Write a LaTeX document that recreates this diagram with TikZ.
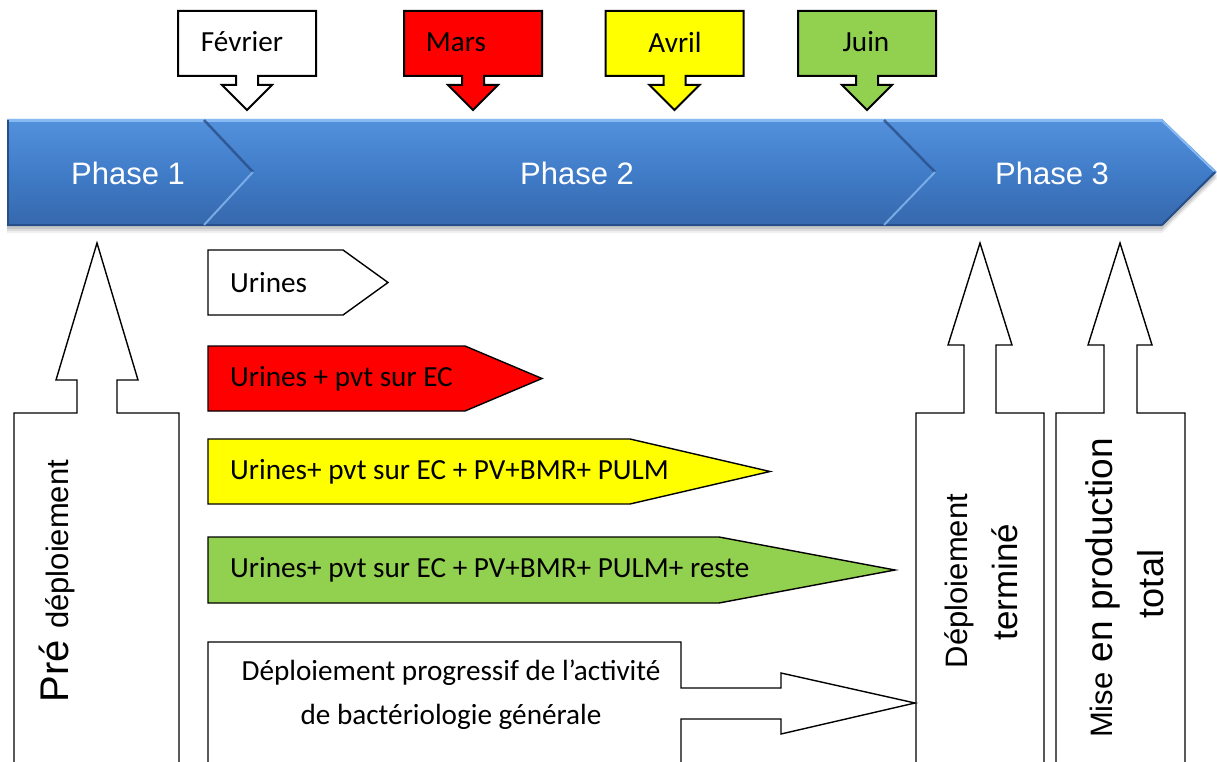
\documentclass[tikz,border=0pt]{standalone}
\usepackage{fontspec}
\setmainfont{Carlito}
\newfontfamily\arialfont{Liberation Sans}
\definecolor{mred}{RGB}{255,0,0}
\definecolor{myellow}{RGB}{255,255,0}
\definecolor{mgreen}{RGB}{146,208,80}
\definecolor{barTop}{RGB}{84,145,220}
\definecolor{barMid}{RGB}{64,124,200}
\definecolor{barBot}{RGB}{54,104,172}
\definecolor{barLight}{RGB}{135,185,242}
\definecolor{barDark}{RGB}{40,78,135}
\newcommand\asz[1]{\arialfont\fontsize{#1}{#1}\selectfont}
\tikzset{
  outl/.style={draw=black, line width=1.4pt, line join=miter},
  callout/.style={draw=black, line width=2pt, line join=miter},
  lbl/.style={font=\fontsize{29.2}{35}\selectfont, text=black, inner sep=0pt},
  phaselbl/.style={font=\arialfont\fontsize{31}{37}\selectfont, text=white, inner sep=0pt},
  vlbl/.style={font=\arialfont, rotate=90, anchor=base, inner sep=0pt},
  bar/.style={top color=barTop, bottom color=barBot, middle color=barMid},
}
% down-pointing callout: centre x, fill colour
\newcommand\monthbox[2]{%
  \path[callout, fill=#2] (#1-69,11) -- (#1+69,11) -- (#1+69,76) -- (#1+11,76)
    -- (#1+11,85) -- (#1+25,85) -- (#1,110) -- (#1-25,85) -- (#1-11,85)
    -- (#1-11,76) -- (#1-69,76) -- cycle;}
\begin{document}
\begin{tikzpicture}[x=1pt, y=-1pt]
\useasboundingbox (0,0) rectangle (1217,762);
\clip (0,0) rectangle (1217,762);
\fill[white] (0,0) rectangle (1217,762);

% ---- phase bar: soft shadow ----
\foreach \d/\o in {7/0.06, 5/0.08, 3/0.10}{
  \fill[black, opacity=\o] (7,119+\d) -- (1162,119+\d) -- (1217,172+\d)
    -- (1162,226+\d) -- (7,226+\d) -- cycle;}

% ---- phase chevrons ----
\path[bar] (202,119) -- (882,119) -- (935,172) -- (882,226) -- (202,226) -- (253,172) -- cycle;
\path[bar] (882,119) -- (1162,119) -- (1217,172) -- (1162,226) -- (882,226) -- (935,172) -- cycle;
\path[bar] (7,119) -- (202,119) -- (253,172) -- (202,226) -- (7,226) -- cycle;

% bevel highlights
\draw[barLight, line width=2.5pt] (7,120.5) -- (1162,120.5);
\draw[barDark, line width=2pt] (7,225) -- (1162,225);
\draw[barLight, line width=2pt] (1162,120.5) -- (1215,172);
\draw[barDark, line width=2pt] (1215,172) -- (1162,225);
\draw[barDark, line width=2.5pt, opacity=0.8] (204,120) -- (253,172);
\draw[barLight, line width=2pt, opacity=0.8] (253,172) -- (204,225);
\draw[barDark, line width=2.5pt, opacity=0.8] (884,120) -- (935,172);
\draw[barLight, line width=2pt, opacity=0.8] (935,172) -- (884,225);
\draw[barDark, line width=1.5pt] (8,120) -- (8,225);

\node[phaselbl] (p1) at (128,173) {Phase 1};
\node[phaselbl] (p2) at (577,173) {Phase 2};
\node[phaselbl] (p3) at (1052,173) {Phase 3};

% ---- month callouts ----
\monthbox{247}{white}
\monthbox{473}{mred}
\monthbox{674.5}{myellow}
\monthbox{867}{mgreen}
\node[lbl] (feb) at (242,42) {Février};
\node[lbl] (mar) at (456,42) {Mars};
\node[lbl] (avr) at (675,42) {Avril};
\node[lbl] (jun) at (866,42) {Juin};

% ---- scope pentagons ----
\path[outl, fill=white] (208,250) -- (343,250) -- (388,282.5) -- (343,315) -- (208,315) -- cycle;
\path[outl, fill=mred] (208,346) -- (465,346) -- (542,378.5) -- (465,411) -- (208,411) -- cycle;
\path[outl, fill=myellow] (208,439) -- (630,439) -- (770,471.5) -- (630,504) -- (208,504) -- cycle;
\path[outl, fill=mgreen] (208,537) -- (719,537) -- (895,570) -- (719,603) -- (208,603) -- cycle;
\node[lbl, anchor=west] (s1) at (230,282.5) {Urines};
\node[lbl, anchor=west] (s2) at (230,378.5) {Urines + pvt sur EC};
\node[lbl, anchor=west] (s3) at (230,471.5) {Urines+ pvt sur EC + PV+BMR+ PULM};
\node[lbl, anchor=west] (s4) at (230,570) {Urines+ pvt sur EC + PV+BMR+ PULM+ reste};

% ---- up arrows ----
\path[outl, fill=white] (14,790) -- (14,413) -- (77,413) -- (77,380) -- (56,380) -- (97,243)
  -- (138,380) -- (117,380) -- (117,413) -- (179,413) -- (179,790) -- cycle;
\path[outl, fill=white] (916,790) -- (916,413) -- (964,413) -- (964,345) -- (948,345) -- (980,243)
  -- (1012,345) -- (996,345) -- (996,413) -- (1044,413) -- (1044,790) -- cycle;
\path[outl, fill=white] (1056,790) -- (1056,413) -- (1104,413) -- (1104,345) -- (1088,345) -- (1120,243)
  -- (1152,345) -- (1137,345) -- (1137,413) -- (1185,413) -- (1185,790) -- cycle;

\node[vlbl] (pre) at (68,581) {{\asz{40}Pré }{\asz{31}déploiement}};
\node[vlbl] (dep1) at (967,581) {\asz{31}Déploiement};
\node[vlbl] (dep2) at (1017,582) {\asz{35}terminé};
\node[vlbl] (mise1) at (1112,588) {{\asz{31}Mise}{\asz{37} en production}};
\node[vlbl] (mise2) at (1163,584) {\asz{36}total};

% ---- progressive deployment box with arrow ----
\path[outl, fill=white] (208,790) -- (208,642) -- (681,642) -- (681,688) -- (781,688) -- (781,673)
  -- (915,703) -- (781,734) -- (781,719) -- (681,719) -- (681,790) -- cycle;
\node[lbl, anchor=base] (prog1) at (451,680) {Déploiement progressif de l’activité};
\node[lbl, anchor=base] (prog2) at (451,724) {de bactériologie générale};
\end{tikzpicture}
\end{document}
